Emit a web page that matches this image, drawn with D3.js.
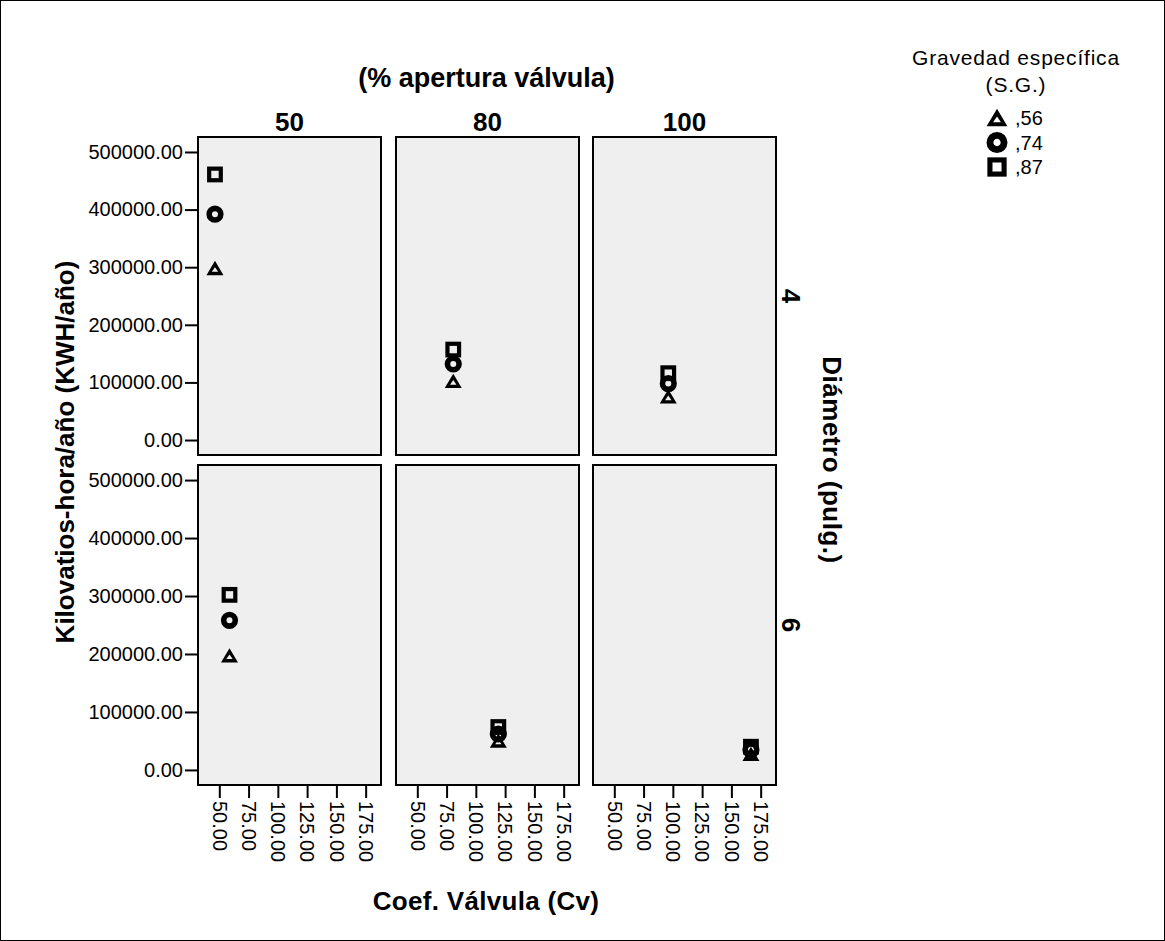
<!DOCTYPE html>
<html>
<head>
<meta charset="utf-8">
<script src="https://cdn.jsdelivr.net/npm/d3@7"></script>
<style>
  body { margin: 0; background: #fff; }
  svg { display: block; font-family: "Liberation Sans", Arial, sans-serif; }
  .tick text { font-size: 20px; fill: #000; }
  .tick line { stroke: #000; stroke-width: 2; }
  .bold { font-weight: bold; font-size: 26px; }
</style>
</head>
<body>
<svg width="1165" height="941"></svg>
<script>
// facets
var aperturas = ["50", "80", "100"];
var diametros = ["4", "6"];
var gravedades = [",56", ",74", ",87"];

// Cv per row (diametro) and column (apertura)
var cvValues = [
  [46.3, 80.7, 96.1],
  [58.7, 119.2, 166.7]
];
// kWh/year per gravedad, rows = diametro, cols = apertura
var kwh056 = [[298000, 102000, 75000], [197000, 50000, 27000]];
var kwh074 = [[392000, 132000, 98000], [258000, 62000, 35000]];
var kwh087 = [[461000, 157000, 116000], [302000, 74000, 40000]];

var yTicks = [0, 100000, 200000, 300000, 400000, 500000];
var xTicks = [50, 75, 100, 125, 150, 175];

var svg = d3.select("svg");

svg.append("rect")
  .attr("x", 0.5).attr("y", 0.5)
  .attr("width", 1164).attr("height", 940)
  .attr("fill", "none").attr("stroke", "#000");

var colX = [198, 396, 593], panelW = 183;
var rowY = [137, 465], rowH = [318, 320];

var x = d3.scaleLinear().domain([31.8, 188.1]).range([0, panelW]);

var series = [
  { name: gravedades[0], shape: "triangle", vals: kwh056 },
  { name: gravedades[1], shape: "circle", vals: kwh074 },
  { name: gravedades[2], shape: "square", vals: kwh087 }
];

// hollow, heavy SPSS-like markers
function drawMarker(sel, shape, s) {
  if (shape == "circle") {
    sel.append("circle").attr("r", 5.8 * s)
      .attr("fill", "none").attr("stroke", "#000").attr("stroke-width", 5.6 * s);
  } else if (shape == "square") {
    sel.append("rect").attr("x", -5.8 * s).attr("y", -5.8 * s)
      .attr("width", 11.6 * s).attr("height", 11.6 * s)
      .attr("fill", "none").attr("stroke", "#000").attr("stroke-width", 4.2 * s);
  } else {
    var outer = [[0, -7.5], [8.5, 6.8], [-8.5, 6.8]],
        inner = [[0, -1.2], [3.2, 3.4], [-3.2, 3.4]];
    var pts = function(p) {
      return "M" + p.map(function(q) { return (q[0] * s) + "," + (q[1] * s); }).join("L") + "Z";
    };
    sel.append("path")
      .attr("d", pts(outer) + pts(inner))
      .attr("fill", "#000").attr("fill-rule", "evenodd");
  }
}

diametros.forEach(function(dm, r) {
  var y = d3.scaleLinear().domain([-26000, 526000]).range([rowH[r], 0]);
  aperturas.forEach(function(ap, c) {
    var g = svg.append("g").attr("transform", "translate(" + colX[c] + "," + rowY[r] + ")");
    g.append("rect")
      .attr("width", panelW).attr("height", rowH[r])
      .attr("fill", "#efefef").attr("stroke", "#000").attr("stroke-width", 2);

    if (c == 0) {
      g.append("g")
        .call(d3.axisLeft(y).tickValues(yTicks).tickSize(13).tickPadding(2).tickFormat(d3.format(".2f")))
        .call(function(a) { a.select(".domain").remove(); });
    }
    if (r == diametros.length - 1) {
      var ax = g.append("g").attr("transform", "translate(0," + rowH[r] + ")")
        .call(d3.axisBottom(x).tickValues(xTicks).tickSize(13).tickFormat(d3.format(".2f")))
        .call(function(a) { a.select(".domain").remove(); });
      ax.selectAll(".tick text")
        .attr("transform", "rotate(90)")
        .attr("x", 16).attr("y", 0).attr("dy", "0.36em")
        .attr("text-anchor", "start");
    }

    series.forEach(function(s) {
      var m = g.append("g")
        .attr("transform", "translate(" + x(cvValues[r][c]) + "," + y(s.vals[r][c]) + ")");
      drawMarker(m, s.shape, 1);
    });
  });
});

// column labels + title
svg.append("text").attr("class", "bold")
  .attr("x", 486.5).attr("y", 87).attr("text-anchor", "middle")
  .style("font-size", "27px")
  .text("(% apertura válvula)");
aperturas.forEach(function(ap, c) {
  svg.append("text").attr("class", "bold")
    .attr("x", colX[c] + panelW / 2).attr("y", 131).attr("text-anchor", "middle")
    .text(ap);
});

// row labels
diametros.forEach(function(dm, r) {
  svg.append("text").attr("class", "bold")
    .attr("transform", "translate(782," + (rowY[r] + rowH[r] / 2) + ") rotate(90)")
    .attr("text-anchor", "middle")
    .text(dm);
});
svg.append("text").attr("class", "bold")
  .attr("transform", "translate(823,460) rotate(90)")
  .attr("text-anchor", "middle")
  .style("letter-spacing", "0.5px")
  .text("Diámetro (pulg.)");

// axis titles
svg.append("text").attr("class", "bold")
  .attr("transform", "translate(74,452) rotate(-90)")
  .attr("text-anchor", "middle")
  .text("Kilovatios-hora/año (KWH/año)");
svg.append("text").attr("class", "bold")
  .attr("x", 486).attr("y", 910).attr("text-anchor", "middle")
  .style("letter-spacing", "0.3px")
  .text("Coef. Válvula (Cv)");

// legend
var leg = svg.append("g");
leg.append("text").attr("x", 1016).attr("y", 65).attr("text-anchor", "middle")
  .style("font-size", "21px").style("letter-spacing", "0.8px")
  .text("Gravedad específica");
leg.append("text").attr("x", 1016).attr("y", 92).attr("text-anchor", "middle")
  .style("font-size", "21px").style("letter-spacing", "0.8px")
  .text("(S.G.)");
series.forEach(function(s, i) {
  var row = leg.append("g").attr("transform", "translate(997," + (118 + i * 24.5) + ")");
  drawMarker(row, s.shape, 1.22);
  row.append("text").attr("x", 18).attr("y", 7)
    .style("font-size", "20px").text(s.name);
});
</script>
</body>
</html>
